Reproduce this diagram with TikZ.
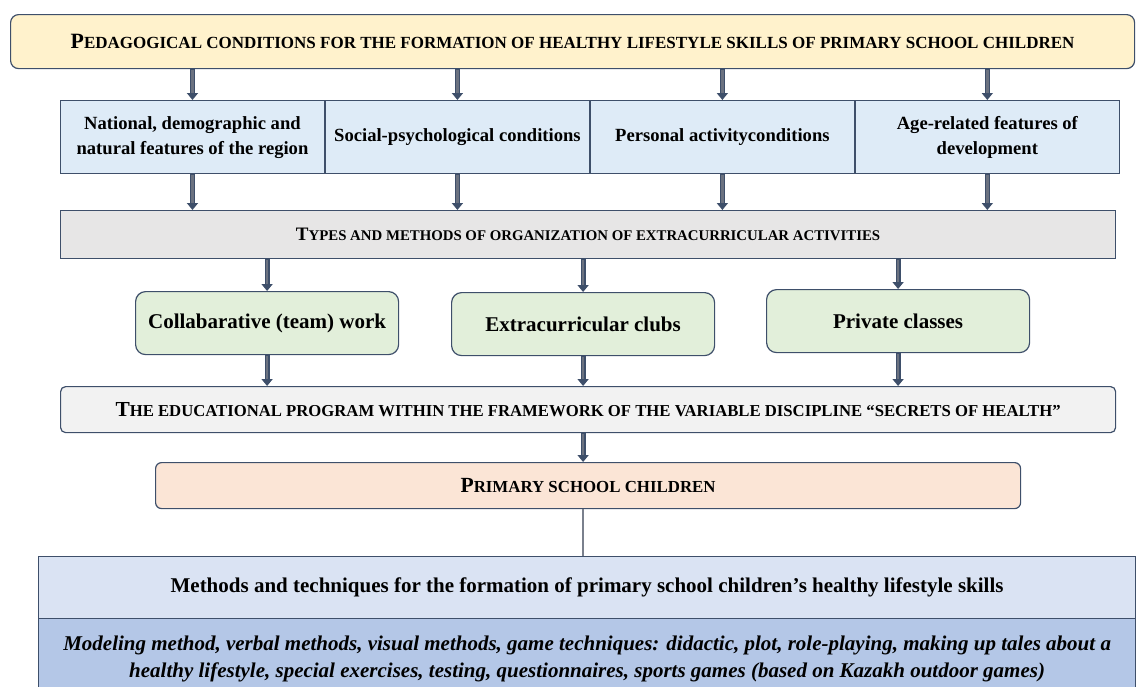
\documentclass[tikz,border=0pt]{standalone}
\usepackage{graphicx}
\usepackage{fontspec}
\setmainfont{Liberation Serif}
\usetikzlibrary{arrows.meta, positioning}
\definecolor{edge}{HTML}{3E4F6A}
\definecolor{arrowgray}{HTML}{6B7280}
\definecolor{titlefill}{HTML}{FFF2CC}
\definecolor{condfill}{HTML}{DEEBF7}
\definecolor{typefill}{HTML}{E7E6E6}
\definecolor{formfill}{HTML}{E2EFDA}
\definecolor{progfill}{HTML}{F2F2F2}
\definecolor{childfill}{HTML}{FBE5D6}
\definecolor{methfill}{HTML}{DAE3F3}
\definecolor{techfill}{HTML}{B4C7E7}
\newcommand*{\fakesc}[2]{#1\scalebox{0.78}{#2}}
\tikzstyle{block} = [draw=edge, line width=1.2pt, inner sep=0pt, align=center, anchor=north west, font=\bfseries]
\tikzstyle{cond} = [block, fill=condfill, minimum width=263.75pt, minimum height=73pt, font=\bfseries\fontsize{18.6}{25}\selectfont]
\tikzstyle{form} = [block, fill=formfill, rounded corners=10pt, minimum width=263pt, minimum height=63pt, font=\bfseries\fontsize{21}{25}\selectfont]
\tikzstyle{bar} = [block, minimum width=1055pt]
\tikzstyle{path} = [-{Triangle[length=7pt, width=11pt]}, line width=5pt, draw=edge, postaction={draw=arrowgray, line width=2.6pt, -, shorten >=7pt, shorten <=0.6pt}]

\begin{document}
\begin{tikzpicture}[x=1pt, y=-1pt]
    \useasboundingbox (0,0) rectangle (1136,686);

    % Conditions.
    \node (title) [block, rounded corners=8pt, fill=titlefill, minimum width=1124pt, minimum height=54pt, font=\bfseries\fontsize{21.8}{25}\selectfont] at (10,14)
        {\fakesc{P}{EDAGOGICAL CONDITIONS FOR THE FORMATION OF HEALTHY LIFESTYLE SKILLS OF PRIMARY SCHOOL CHILDREN}};
    \node (cond 1) [cond] at (60,100) {National, demographic and\\natural features of the region};
    \node (cond 2) [cond, right=0pt of cond 1] {Social-psychological conditions};
    \node (cond 3) [cond, right=0pt of cond 2] {Personal activityconditions};
    \node (cond 4) [cond, right=0pt of cond 3] {Age-related features of\\development};

    % Forms of extracurricular work.
    \node (types) [bar, fill=typefill, minimum height=48pt, font=\bfseries\fontsize{19}{22}\selectfont] at (60,210)
        {\fakesc{T}{YPES AND METHODS OF ORGANIZATION OF EXTRACURRICULAR ACTIVITIES}};
    \node (team) [form] at (135,291) {Collabarative (team) work};
    \node (club) [form] at (451,292) {Extracurricular clubs};
    \node (private) [form] at (766,289) {Private classes};

    % Program and children.
    \node (program) [bar, fill=progfill, rounded corners=5pt, minimum height=46pt, font=\bfseries\fontsize{21.4}{24}\selectfont] at (60,386)
        {\fakesc{T}{HE EDUCATIONAL PROGRAM WITHIN THE FRAMEWORK OF THE VARIABLE DISCIPLINE “SECRETS OF HEALTH"}};
    \node (children) [block, fill=childfill, rounded corners=6pt, minimum width=865pt, minimum height=46pt, font=\bfseries\fontsize{21.6}{24}\selectfont] at (155,462)
        {\fakesc{P}{RIMARY SCHOOL CHILDREN}};

    % Methods.
    \node (methods) [block, fill=methfill, minimum width=1097pt, minimum height=62pt, font=\bfseries\fontsize{21}{24}\selectfont] at (38,556)
        {Methods and techniques for the formation of primary school children’s healthy lifestyle skills};
    \node (techniques) [block, fill=techfill, minimum width=1097pt, minimum height=80pt, font=\bfseries\itshape\fontsize{21}{27}\selectfont] at (38,618)
        {Modeling method, verbal methods, visual methods, game techniques: didactic, plot, role-playing, making up tales about a\\healthy lifestyle, special exercises, testing, questionnaires, sports games (based on Kazakh outdoor games)};

    % Paths.
    \foreach \j in {1, ..., 4} {%
        \draw [path] (title.south -| cond \j) -- (cond \j);
        \draw [path] (cond \j) -- (cond \j |- types.north);
    }

    \foreach \f in {team, club, private} {%
        \draw [path] (types.south -| \f) -- (\f);
        \draw [path] (\f) -- (\f |- program.north);
    }

    \draw [path] (program.south -| club) -- (children.north -| club);
    \draw [arrowgray!90, line width=2.5pt] (children.south -| club) -- (methods.north -| club);
\end{tikzpicture}
\end{document}
